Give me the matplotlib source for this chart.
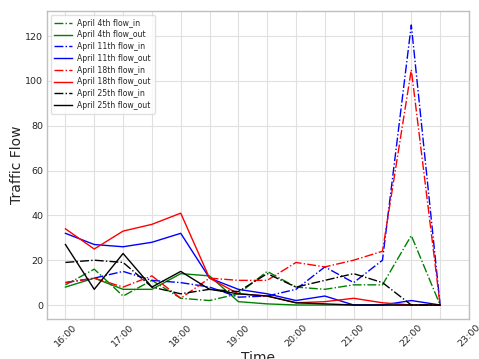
import matplotlib
matplotlib.use("Agg")
import matplotlib.pyplot as plt
from matplotlib.ticker import MultipleLocator

# Half-hour sample times from 16:00 to 22:30
times = ["16:00", "16:30", "17:00", "17:30", "18:00", "18:30", "19:00",
         "19:30", "20:00", "20:30", "21:00", "21:30", "22:00", "22:30"]
hour_labels = ["16:00", "17:00", "18:00", "19:00", "20:00", "21:00", "22:00", "23:00"]

apr4_in = [9, 16, 4, 11, 3, 2, 5, 15, 8, 7, 9, 9, 31, 0]
apr4_out = [8, 12, 7, 7, 14, 13, 1.5, 0.5, 0, 0, 0, 0, 0, 0]
apr11_in = [10, 12, 15, 11, 10, 8, 3.5, 4, 7, 17, 10, 20, 125, 0]
apr11_out = [32, 27, 26, 28, 32, 12, 7, 5, 2, 4, 0, 0, 2, 0]
apr18_in = [10, 12, 8, 13, 3, 12, 11, 11, 19, 17, 20, 24, 105, 0]
apr18_out = [34, 25, 33, 36, 41, 12, 5, 4, 1, 1.5, 3, 1, 0, 0]
apr25_in = [19, 20, 19, 8, 5, 7, 6, 14, 8, 11, 14, 10, 0, 0]
apr25_out = [27, 7, 23, 8, 15, 7, 5, 4, 1, 0.5, 0, 0, 0, 0]

series = [
    ("April 4th flow_in", apr4_in, "g", "-."),
    ("April 4th flow_out", apr4_out, "g", "-"),
    ("April 11th flow_in", apr11_in, "b", "-."),
    ("April 11th flow_out", apr11_out, "b", "-"),
    ("April 18th flow_in", apr18_in, "r", "-."),
    ("April 18th flow_out", apr18_out, "r", "-"),
    ("April 25th flow_in", apr25_in, "k", "-."),
    ("April 25th flow_out", apr25_out, "k", "-"),
]

plt.rcParams["font.family"] = "DejaVu Sans"
plt.rcParams["text.color"] = "0.15"
plt.rcParams["axes.labelcolor"] = "0.15"
plt.rcParams["xtick.color"] = "0.15"
plt.rcParams["ytick.color"] = "0.15"

fig = plt.figure(figsize=(4.79, 3.59), dpi=100)
ax = fig.add_axes([0.0975, 0.1114, 0.8815, 0.858])

x = list(range(len(times)))
for label, vals, color, ls in series:
    ax.plot(x, vals, color=color, linestyle=ls, linewidth=1.0, label=label)

ax.xaxis.set_major_locator(MultipleLocator(2))
ax.xaxis.set_minor_locator(MultipleLocator(1))
ax.set_xticks(range(0, 2 * len(hour_labels), 2))
ax.set_xticklabels(hour_labels, rotation=45, fontsize=6.8)
ax.tick_params(axis="y", labelsize=6.8)
ax.tick_params(which="both", length=0, pad=2.5)

ax.set_yticks([0, 20, 40, 60, 80, 100, 120])
ax.set_xlim(-0.65, 14)
ax.set_ylim(-6.25, 131.25)

ax.grid(True, which="both", color="0.88", linewidth=0.8)
ax.set_axisbelow(True)
for sp in ax.spines.values():
    sp.set_color("0.75")
    sp.set_linewidth(1.0)

ax.set_xlabel("Time", fontsize=10, labelpad=2)
ax.set_ylabel("Traffic Flow", fontsize=10, labelpad=1)

leg = ax.legend(loc="upper left", fontsize=5.6, frameon=True, framealpha=0.8,
                edgecolor="0.85", handlelength=2.2, borderpad=0.5,
                labelspacing=0.35, handletextpad=0.7, borderaxespad=0.5)

fig.savefig("out.png", dpi=100)
